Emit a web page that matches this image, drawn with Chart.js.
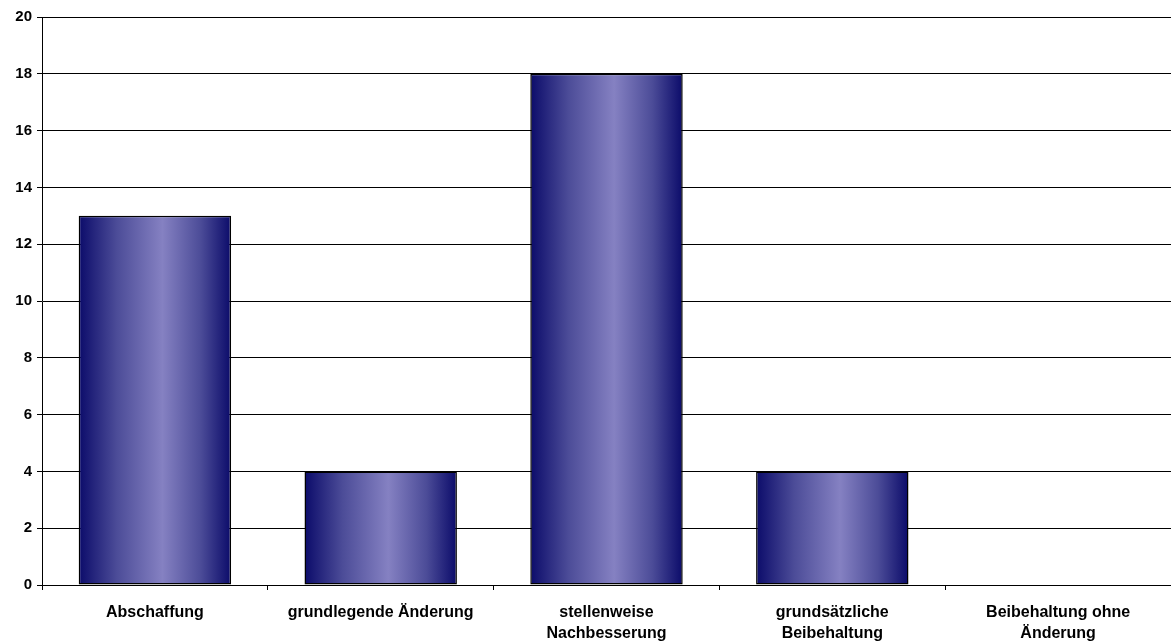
<!DOCTYPE html>
<html>
<head>
<meta charset="utf-8">
<script src="https://cdn.jsdelivr.net/npm/chart.js@4/dist/chart.umd.min.js"></script>
<style>
  html, body { margin: 0; padding: 0; background: #fff; }
  #wrap { width: 1171px; height: 641px; position: relative; }
</style>
</head>
<body>
<div id="wrap"><canvas id="chart"></canvas></div>
<script>
// Daten
const kategorien = [
  'Abschaffung',
  'grundlegende Änderung',
  ['stellenweise', 'Nachbesserung'],
  ['grundsätzliche', 'Beibehaltung'],
  ['Beibehaltung ohne', 'Änderung']
];
const anzahl = [13, 4, 18, 4, 0];
const yTicks = [0, 2, 4, 6, 8, 10, 12, 14, 16, 18, 20];

// horizontaler Verlauf pro Balken (dunkel am Rand, hell in der Mitte)
function balkenVerlauf(ctx) {
  const chart = ctx.chart;
  const meta = chart.getDatasetMeta(ctx.datasetIndex);
  const el = meta.data[ctx.dataIndex];
  const xScale = chart.scales.x;
  if (!chart.chartArea || !xScale) return '#4a4a9a';
  const center = xScale.getPixelForValue(ctx.dataIndex);
  const half = (el && el.width) ? el.width / 2 : xScale.width / kategorien.length * 0.675 / 2;
  const g = chart.ctx.createLinearGradient(center - half, 0, center + half, 0);
  g.addColorStop(0, '#0b0b6a');
  g.addColorStop(0.25, '#4c4c98');
  g.addColorStop(0.55, '#8581c2');
  g.addColorStop(0.8, '#4c4c98');
  g.addColorStop(1, '#0b0b6a');
  return g;
}

new Chart(document.getElementById('chart'), {
  type: 'bar',
  data: {
    labels: kategorien,
    datasets: [{
      data: anzahl,
      backgroundColor: balkenVerlauf,
      borderColor: '#000',
      borderWidth: 1.5,
      borderSkipped: false,
      barPercentage: 0.675,
      categoryPercentage: 1
    }]
  },
  options: {
    responsive: true,
    maintainAspectRatio: false,
    animation: false,
    layout: { padding: { top: 17, right: 0, left: 0, bottom: 0 } },
    plugins: { legend: { display: false }, tooltip: { enabled: false } },
    scales: {
      x: {
        offset: true,
        grid: { display: true, drawOnChartArea: false, drawTicks: true, tickLength: 5, offset: true, color: '#000' },
        border: { display: true, color: '#000', width: 1 },
        ticks: {
          color: '#000',
          maxRotation: 0,
          autoSkip: false,
          padding: 12,
          font: { family: 'Liberation Sans, Arial, sans-serif', size: 16, weight: 'bold', lineHeight: 1.3 }
        },
        afterFit: (s) => { s.height = 56; }
      },
      y: {
        min: 0,
        max: 20,
        afterBuildTicks: (s) => { s.ticks = yTicks.map(v => ({ value: v })); },
        grid: { color: '#000', lineWidth: 1, tickLength: 5, drawTicks: true },
        border: { display: true, color: '#000', width: 1 },
        ticks: {
          color: '#000',
          padding: 5,
          font: { family: 'Liberation Sans, Arial, sans-serif', size: 15, weight: 'bold' }
        },
        afterFit: (s) => { s.width = 42; }
      }
    }
  }
});
</script>
</body>
</html>
